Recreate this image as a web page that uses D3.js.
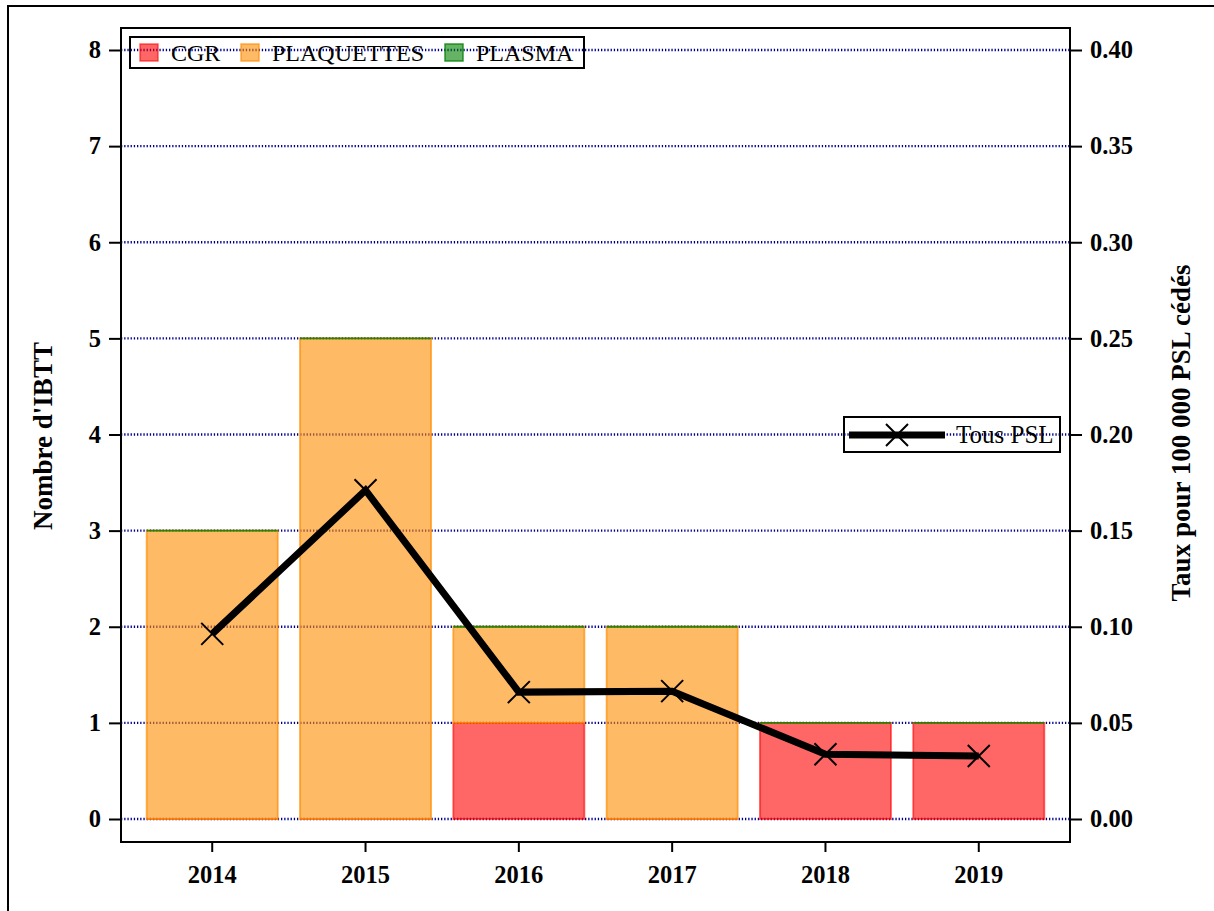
<!DOCTYPE html>
<html>
<head>
<meta charset="utf-8">
<script src="https://cdn.jsdelivr.net/npm/d3@7"></script>
<style>
  html, body { margin: 0; padding: 0; background: #fff; }
  svg { display: block; }
</style>
</head>
<body>
<svg id="chart" width="1214" height="911"></svg>
<script>
const years = ["2014", "2015", "2016", "2017", "2018", "2019"];
const cgr = [0, 0, 1, 0, 1, 1];
const plaquettes = [3, 5, 1, 2, 0, 0];
const plasma = [0, 0, 0, 0, 0, 0];
const taux = [0.0963, 0.171, 0.066, 0.0665, 0.0337, 0.0328];
const leftTicks = [0, 1, 2, 3, 4, 5, 6, 7, 8];
const rightTicks = [0, 0.05, 0.10, 0.15, 0.20, 0.25, 0.30, 0.35, 0.40];
const seriesNames = ["CGR", "PLAQUETTES", "PLASMA"];
const seriesKeys = ["cgr", "plaquettes", "plasma"];
const fills = ["rgba(255,0,0,0.6)", "rgba(255,140,0,0.6)", "rgba(0,128,0,0.6)"];
const edges = ["rgba(255,0,0,0.6)", "rgba(255,140,0,0.7)", "rgba(0,128,0,0.8)"];

const svg = d3.select("#chart");
const M = { left: 121, right: 1070, top: 28, bottom: 842 };
const serif = "'Liberation Serif', 'DejaVu Serif', serif";

// outer figure border
svg.append("rect").attr("x", 8).attr("y", 6).attr("width", 1230).attr("height", 930)
  .attr("fill", "none").attr("stroke", "#000").attr("stroke-width", 2);

const x = d3.scaleBand().domain(years).range([M.left, M.right])
  .paddingInner(0.145).paddingOuter(0.1675);
const y = d3.scaleLinear().domain([0, 8]).range([819, 50]);
const y2 = d3.scaleLinear().domain([0, 0.4]).range([819, 50]);

// grid
svg.append("g").selectAll("line").data(leftTicks).join("line")
  .attr("x1", M.left).attr("x2", M.right)
  .attr("y1", d => y(d)).attr("y2", d => y(d))
  .attr("stroke", "#000090").attr("stroke-width", 2.4)
  .attr("stroke-dasharray", "1.3 1.9");

// stacked bars (paths so that zero-height segments still show their edge)
const table = years.map((yr, i) => ({ year: yr, cgr: cgr[i], plaquettes: plaquettes[i], plasma: plasma[i] }));
const stacked = d3.stack().keys(seriesKeys)(table);
stacked.forEach((s, si) => {
  svg.append("g").selectAll("path").data(s).join("path")
    .attr("d", d => {
      const x0 = x(d.data.year), w = x.bandwidth();
      const yt = y(d[1]), yb = y(d[0]);
      return `M${x0},${yb}L${x0 + w},${yb}L${x0 + w},${yt}L${x0},${yt}Z`;
    })
    .attr("fill", fills[si])
    .attr("stroke", edges[si])
    .attr("stroke-width", 1.8);
});

// line
const cx = d => x(d) + x.bandwidth() / 2;
svg.append("path").datum(years.map((yr, i) => [cx(yr), y2(taux[i])]))
  .attr("d", d3.line())
  .attr("fill", "none").attr("stroke", "#000").attr("stroke-width", 7)
  .attr("stroke-linejoin", "miter");
const mk = 11;
const markers = svg.append("g");
years.forEach((yr, i) => {
  const px = cx(yr), py = y2(taux[i]);
  markers.append("path")
    .attr("d", `M${px - mk},${py - mk}L${px + mk},${py + mk}M${px - mk},${py + mk}L${px + mk},${py - mk}`)
    .attr("stroke", "#000").attr("stroke-width", 2).attr("fill", "none");
});

// axes
const axL = svg.append("g").attr("transform", `translate(${M.left},0)`)
  .call(d3.axisLeft(y).tickValues(leftTicks).tickSize(12).tickPadding(8).tickFormat(d3.format("d")));
const axR = svg.append("g").attr("transform", `translate(${M.right},0)`)
  .call(d3.axisRight(y2).tickValues(rightTicks).tickSize(12).tickPadding(8).tickFormat(d3.format(".2f")));
const axB = svg.append("g").attr("transform", `translate(0,${M.bottom})`)
  .call(d3.axisBottom(x).tickSize(10).tickPadding(14));
[axL, axR, axB].forEach(a => {
  a.select(".domain").remove();
  a.selectAll("line").attr("stroke", "#000").attr("stroke-width", 2);
  a.selectAll("text").attr("font-family", serif).attr("font-weight", "bold")
    .attr("font-size", 24.5).attr("fill", "#000");
});

// plot frame
svg.append("rect").attr("x", M.left).attr("y", M.top)
  .attr("width", M.right - M.left).attr("height", M.bottom - M.top)
  .attr("fill", "none").attr("stroke", "#000").attr("stroke-width", 2);

// axis titles
svg.append("text").attr("transform", "translate(52,436) rotate(-90)")
  .attr("text-anchor", "middle").attr("font-family", serif).attr("font-weight", "bold")
  .attr("font-size", 27).text("Nombre d'IBTT");
svg.append("text").attr("transform", "translate(1190,433) rotate(-90)")
  .attr("text-anchor", "middle").attr("font-family", serif).attr("font-weight", "bold")
  .attr("font-size", 27).text("Taux pour 100 000 PSL cédés");

// bar legend
const lg = svg.append("g");
lg.append("rect").attr("x", 130).attr("y", 37).attr("width", 454).attr("height", 31)
  .attr("fill", "none").attr("stroke", "#000").attr("stroke-width", 2);
const legX = [140, 241, 445];
seriesNames.forEach((n, i) => {
  lg.append("rect").attr("x", legX[i]).attr("y", 44).attr("width", 18).attr("height", 17)
    .attr("fill", fills[i]).attr("stroke", edges[i]).attr("stroke-width", 1.5);
  lg.append("text").attr("x", legX[i] + 31).attr("y", 61)
    .attr("font-family", serif).attr("font-size", 24).text(n);
});

// line legend
const ll = svg.append("g");
ll.append("rect").attr("x", 844).attr("y", 417).attr("width", 216).attr("height", 35)
  .attr("fill", "none").attr("stroke", "#000").attr("stroke-width", 2);
ll.append("line").attr("x1", 849).attr("x2", 945).attr("y1", 435).attr("y2", 435)
  .attr("stroke", "#000").attr("stroke-width", 7);
ll.append("path").attr("d", `M${897 - mk},${435 - mk}L${897 + mk},${435 + mk}M${897 - mk},${435 + mk}L${897 + mk},${435 - mk}`)
  .attr("stroke", "#000").attr("stroke-width", 2);
ll.append("text").attr("x", 956).attr("y", 443)
  .attr("font-family", serif).attr("font-size", 25).text("Tous PSL");
</script>
</body>
</html>
